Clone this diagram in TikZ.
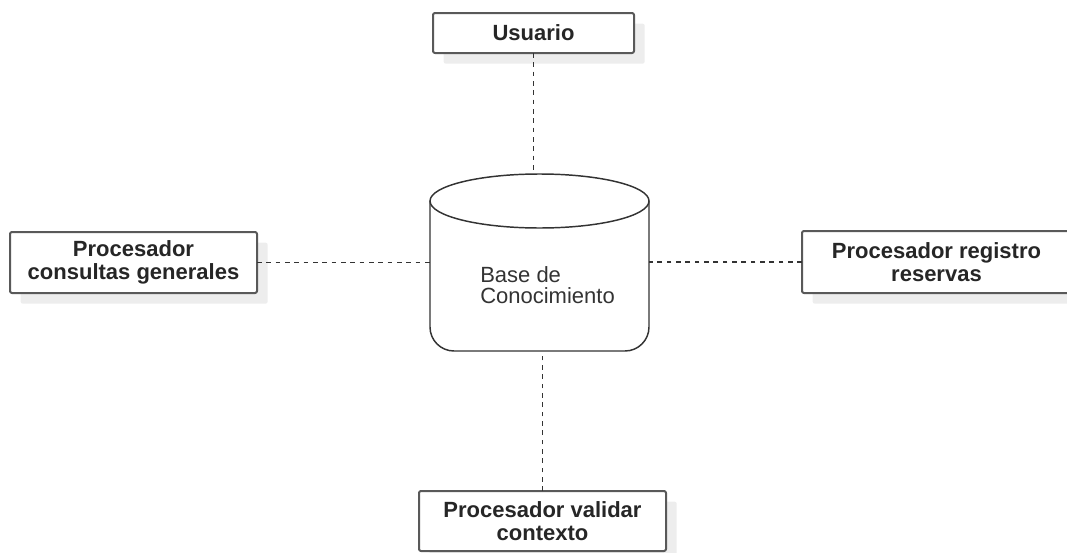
\documentclass[tikz,border=0pt]{standalone}
\usepackage{fontspec}
\setmainfont{Liberation Sans}
\usetikzlibrary{shadows}

\begin{document}
\begin{tikzpicture}[x=0.75pt,y=-0.75pt,line join=round,
                    box/.style={rectangle,draw=black!65,line width=1.5pt,rounded corners=1.5pt,
                      fill=white,align=center,inner sep=0pt,outer sep=0pt,text=black!85,
                      font=\fontsize{16.5}{17.5}\selectfont\bfseries,
                      drop shadow={shadow xshift=8pt,shadow yshift=-8pt,fill=black!7,opacity=1}},
                    db/.style={draw=black!80,line width=1.1pt},
                    link/.style={draw=black!80,line width=1.4pt,dash pattern=on 3.5pt off 3.5pt}]

  \useasboundingbox (0,0) rectangle (1067,553);

  % knowledge base in the middle
  \node[minimum width=164.25pt,minimum height=132.75pt,outer sep=0pt] (kb) at (539.5,262.5) {};
  \draw[db,rounded corners=18pt] ([yshift=-20pt]kb.north west) -- (kb.south west)
       -- (kb.south east) -- ([yshift=-20pt]kb.north east);
  \draw[db,fill=white] ([yshift=-20.25pt]kb.north) ellipse [x radius=82.125pt, y radius=20.25pt];
  \node[anchor=west,align=left,inner sep=0pt,text=black!80,
        font=\fontsize{16.5}{15.75}\selectfont] (kbtext) at (480,285) {Base de\\Conocimiento};

  \node[box,minimum width=150.75pt,minimum height=30pt] (user) at (533.5,33) {Usuario};
  \node[box,minimum width=185.25pt,minimum height=45.75pt] (general) at (133.5,262.5)
       {Procesador\\consultas generales};
  \node[box,minimum width=201.75pt,minimum height=46.5pt] (booking) at (936.5,262)
       {Procesador registro\\reservas};
  \node[box,minimum width=185.25pt,minimum height=45pt] (context) at (542.5,521)
       {Procesador validar\\contexto};

  \draw[link] (user.south) -- (user.south |- kb.north);
  \draw[link] (context.north) -- (context.north |- kb.south);
  \draw[link] (general.east) -- (general.east -| kb.west);
  \draw[link] (booking.west) -- (booking.west -| kb.east);
\end{tikzpicture}
\end{document}
